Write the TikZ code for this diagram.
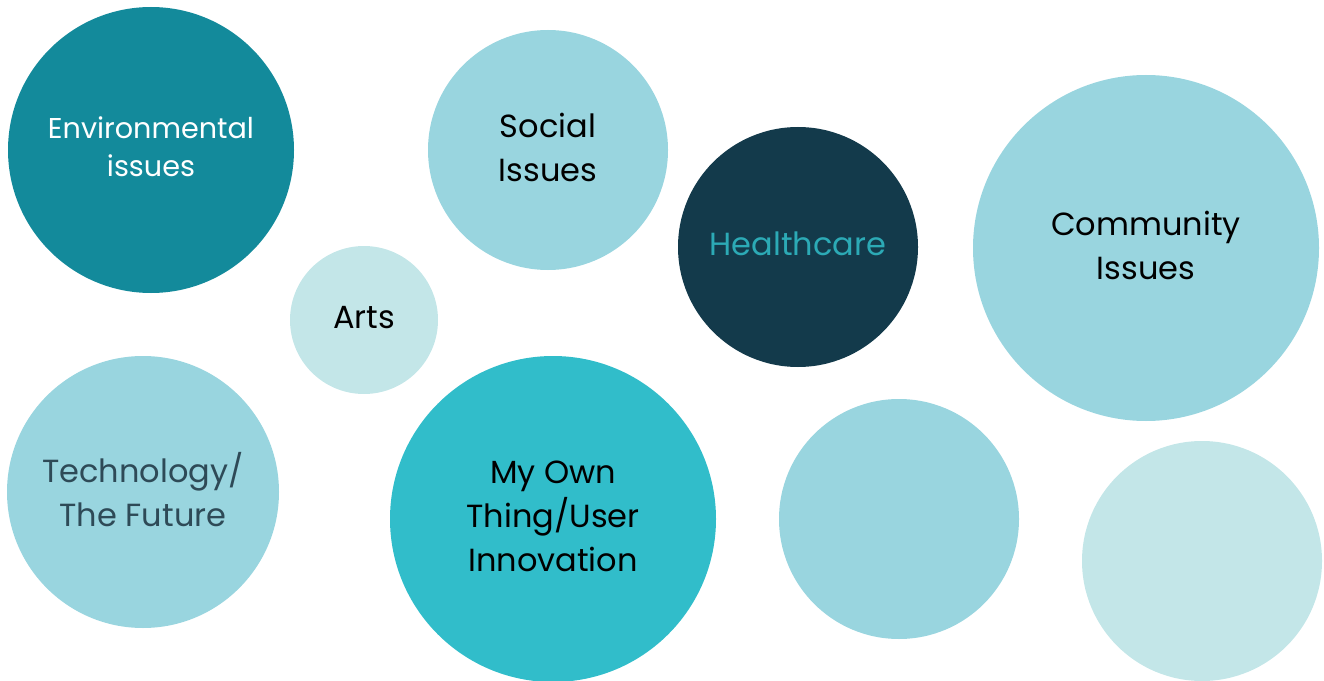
\documentclass[tikz,border=0pt]{standalone}
\usepackage{fontspec}
\setmainfont{Poppins}
\usepackage{xcolor}

\definecolor{deepteal}{HTML}{138A9B}
\definecolor{paleteal}{HTML}{99D5DF}
\definecolor{mistteal}{HTML}{C3E6E8}
\definecolor{navyteal}{HTML}{133A4B}
\definecolor{brightteal}{HTML}{31BDCA}
\definecolor{slatetext}{HTML}{2E4A57}

\begin{document}
\begin{tikzpicture}[
      x=0.75pt, y=-0.75pt,
      bubble/.style={circle, inner sep=0pt, outer sep=0pt, minimum size=#1*1.5pt, align=center, text depth=4.5pt},
      every node/.style={font=\fontsize{24}{33}\selectfont}
    ]
    \useasboundingbox (0,0) rectangle (1324,681);

    \node[bubble=143, fill=deepteal, text=white, font=\fontsize{21.5}{28.5}\selectfont] (env) at (151,150) {Environmental\\issues};
    \node[bubble=120, fill=paleteal, text=black] (social) at (548,150) {Social\\Issues};
    \node[bubble=120, fill=navyteal, text=brightteal!90!black] (health) at (798,247) {Healthcare};
    \node[bubble=173, fill=paleteal, text=black] (community) at (1146,248) {Community\\Issues};
    \node[bubble=74, fill=mistteal, text=black] (arts) at (364,320) {Arts};
    \node[bubble=136, fill=paleteal, text=slatetext] (tech) at (143,492) {Technology/\\The Future};
    \node[bubble=163, fill=brightteal, text=black] (own) at (553,519) {My Own\\Thing/User\\Innovation};
    % empty bubbles
    \node[bubble=120, fill=paleteal] (blank1) at (899,519) {};
    \node[bubble=120, fill=mistteal] (blank2) at (1202,561) {};
  \end{tikzpicture}
\end{document}
